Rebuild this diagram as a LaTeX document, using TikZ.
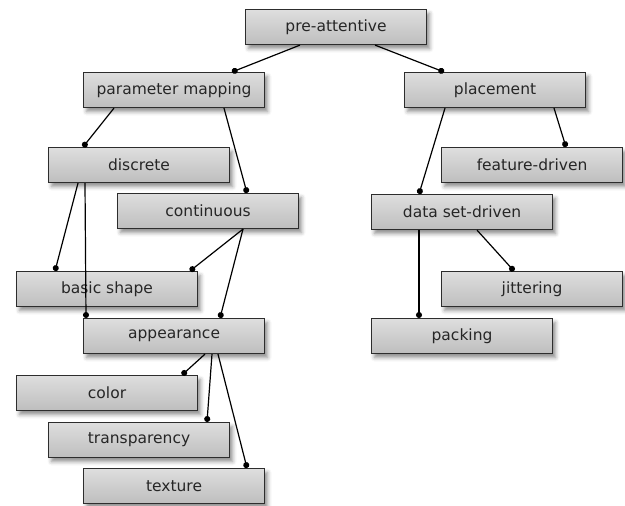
\documentclass[tikz,border=0pt]{standalone}
\usepackage{fontspec}
\setmainfont{DejaVu Sans}
\definecolor{boxtop}{RGB}{222,222,222}
\definecolor{boxbottom}{RGB}{190,190,190}
\definecolor{boxline}{RGB}{45,45,45}
\usetikzlibrary{arrows.meta,shadows.blur}

\begin{document}
\begin{tikzpicture}[x=1pt, y=-1pt,
    every node/.style={font=\fontsize{15.5}{17}\selectfont, text=black!85},
    item/.style={draw=boxline, line width=1.1pt, anchor=north west, top color=boxtop, bottom color=boxbottom,
        minimum width=181pt, minimum height=35pt, inner sep=0pt,
        blur shadow={shadow xshift=3pt, shadow yshift=-4pt, shadow blur radius=4pt, shadow opacity=45}},
    link/.style={line width=1.2pt, -{Circle[length=6pt]}}]
    \useasboundingbox (0,0) rectangle (625,506);

    % Root
    \node[item] (pre) at (245,9) {pre-attentive};

    % Parameter mapping branch
    \node[item] (param) at (83,72) {parameter mapping};
    \node[item] (disc) at (48,147) {discrete};
    \node[item] (cont) at (117,193) {continuous};
    \node[item] (shape) at (16,271) {basic shape};
    \node[item] (app) at (83,318) {appearance};
    \node[item] (color) at (16,375) {color};
    \node[item] (transp) at (48,422) {transparency};
    \node[item] (texture) at (83,468) {texture};

    % Placement branch
    \node[item] (place) at (404,72) {placement};
    \node[item] (feat) at (441,147) {feature-driven};
    \node[item] (dset) at (371,194) {data set-driven};
    \node[item] (jitter) at (441,271) {jittering};
    \node[item] (pack) at (371,318) {packing};

    % Links
    \draw[link] ([xshift=55pt]pre.south west) -- ([xshift=149pt]param.north west);
    \draw[link] ([xshift=130pt]pre.south west) -- ([xshift=40pt]place.north west);
    \draw[link] ([xshift=31pt]param.south west) -- ([xshift=35pt]disc.north west);
    \draw[link] ([xshift=141pt]param.south west) -- ([xshift=130pt]cont.north west);
    \draw[link] ([xshift=30pt]disc.south west) -- ([xshift=39pt]shape.north west);
    \draw[link] ([xshift=37pt]disc.south west) -- ([xshift=3pt]app.north west);
    \draw[link] ([xshift=126pt]cont.south west) -- ([xshift=174pt]shape.north west);
    \draw[link] ([xshift=126pt]cont.south west) -- ([xshift=137pt]app.north west);
    \draw[link] ([xshift=122pt]app.south west) -- ([xshift=166pt]color.north west);
    \draw[link] ([xshift=129pt]app.south west) -- ([xshift=159pt]transp.north west);
    \draw[link] ([xshift=135pt]app.south west) -- ([xshift=164pt]texture.north west);
    \draw[link] ([xshift=150pt]place.south west) -- ([xshift=125pt]feat.north west);
    \draw[link] ([xshift=41pt]place.south west) -- ([xshift=48pt]dset.north west);
    \draw[link] ([xshift=106pt]dset.south west) -- ([xshift=73pt]jitter.north west);
    \draw[link] ([xshift=48pt]dset.south west) -- ([xshift=48pt]pack.north west);
\end{tikzpicture}
\end{document}
